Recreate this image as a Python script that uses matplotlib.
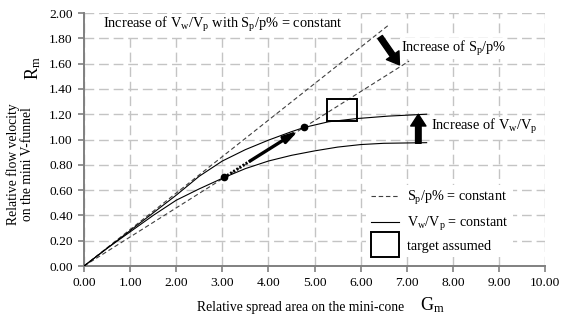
import numpy as np
import matplotlib
matplotlib.use('Agg')
import matplotlib.pyplot as plt
from matplotlib.patches import Rectangle
from matplotlib.lines import Line2D
from matplotlib.legend_handler import HandlerPatch

plt.rcParams['font.family'] = ['Liberation Serif', 'DejaVu Serif']
plt.rcParams['mathtext.fontset'] = 'custom'
plt.rcParams['mathtext.rm'] = 'Liberation Serif'
plt.rcParams['mathtext.it'] = 'Liberation Serif:italic'

# Sp/p% = constant (два пунктирных луча)
sp_hi_x = [0.0, 6.59]
sp_hi_y = [0.0, 1.90]
sp_lo_x = [0.0, 7.05]
sp_lo_y = [0.0, 1.62]

# Vw/Vp = constant (две сплошные кривые)
vw_hi_x = [0.0, 0.5, 1.0, 1.5, 2.0, 2.5, 2.75, 3.0, 3.5, 4.0, 4.5, 4.77, 5.3, 5.9, 6.6, 7.43]
vw_hi_y = [0.0, 0.14, 0.28, 0.42, 0.56, 0.71, 0.77, 0.83, 0.92, 0.995, 1.062, 1.095, 1.14, 1.165, 1.185, 1.20]
vw_lo_x = [0.0, 0.5, 1.0, 1.5, 2.0, 2.5, 3.04, 3.5, 4.0, 4.5, 5.0, 5.5, 6.0, 6.5, 7.43]
vw_lo_y = [0.0, 0.14, 0.27, 0.40, 0.52, 0.61, 0.70, 0.77, 0.83, 0.875, 0.91, 0.94, 0.96, 0.97, 0.975]

# точки и стрелка между ними
dot_x = [3.04, 4.77]
dot_y = [0.70, 1.10]
path_x = [3.04, 3.6, 4.65]
path_y = [0.70, 0.83, 1.07]

# target assumed
target = (5.28, 1.15, 0.63, 0.17)

# большие стрелки
arr_sp = ((6.42, 1.81), (6.84, 1.59))
arr_vw = ((7.25, 0.97), (7.25, 1.20))

fig = plt.figure(figsize=(5.62, 3.21), dpi=100)
ax = fig.add_axes([0.1495, 0.1713, 0.8205, 0.7882])

ax.set_xlim(0, 10)
ax.set_ylim(0, 2)
ax.set_xticks(np.arange(0, 10.01, 1))
ax.set_yticks(np.arange(0, 2.01, 0.2))
ax.set_xticklabels(['%.2f' % v for v in np.arange(0, 10.01, 1)])
ax.set_yticklabels(['%.2f' % v for v in np.arange(0, 2.01, 0.2)])
ax.tick_params(labelsize=9.7, length=4, width=1.2, color='#808080', pad=4)
ax.grid(True, color='#c4c4c4', linestyle=(0, (7, 3.5)), linewidth=1.0)
ax.set_axisbelow(True)
for s in ['top', 'right']:
    ax.spines[s].set_visible(False)
for s in ['left', 'bottom']:
    ax.spines[s].set_color('#808080')
    ax.spines[s].set_linewidth(1.4)

dash = (0, (4, 2.5))
ax.plot(sp_hi_x, sp_hi_y, color='#404040', lw=0.8, linestyle=dash, zorder=3)
ax.plot(sp_lo_x, sp_lo_y, color='#404040', lw=0.8, linestyle=dash, zorder=3)
ax.plot(vw_hi_x, vw_hi_y, color='black', lw=0.8, zorder=3)
ax.plot(vw_lo_x, vw_lo_y, color='black', lw=0.8, zorder=3)

ax.add_patch(Rectangle(target[:2], target[2], target[3], fill=False, ec='black', lw=1.4, zorder=4))

ax.plot(path_x[:2], path_y[:2], color='black', lw=2.2, linestyle=(0, (0.6, 0.6)), zorder=4)
ax.annotate('', xy=(path_x[2], path_y[2]), xytext=(path_x[1], path_y[1]),
            arrowprops=dict(arrowstyle='-|>,head_length=0.8,head_width=0.22', lw=2.4, color='black',
                            shrinkA=0, shrinkB=0), zorder=4)
ax.plot(dot_x, dot_y, 'o', color='black', ms=4.5, zorder=5)

big = 'simple,head_length=0.85,head_width=1.1,tail_width=0.4'
for (s, e) in [arr_sp, arr_vw]:
    ax.annotate('', xy=e, xytext=s,
                arrowprops=dict(arrowstyle=big, color='black', shrinkA=0, shrinkB=0, mutation_scale=10),
                zorder=5)

fs = 10.4
wb = dict(facecolor='white', edgecolor='none', pad=0.5)
ax.text(0.41, 1.91, r'Increase of V$_\mathrm{w}$/V$_\mathrm{p}$ with S$_\mathrm{p}$/p% = constant',
        fontsize=fs, va='center', ha='left', bbox=wb, zorder=2)
ax.text(6.87, 1.72, r'Increase of S$_\mathrm{p}$/p%', fontsize=fs, va='center', ha='left', bbox=wb, zorder=2)
ax.text(7.52, 1.10, r'Increase of V$_\mathrm{w}$/V$_\mathrm{p}$', fontsize=fs, va='center', ha='left', bbox=wb, zorder=2)

ax.text(0.469, -0.162, 'Relative spread area on the mini-cone', transform=ax.transAxes,
        fontsize=9.8, ha='center', va='center')
ax.text(0.755, -0.155, r'G$_\mathrm{m}$', transform=ax.transAxes, fontsize=13, ha='center', va='center')
ax.text(-0.139, 0.403, 'Relative flow velocity\non the mini V-funnel', transform=ax.transAxes,
        fontsize=9.8, ha='center', va='center', rotation=90, linespacing=1.1)
ax.text(-0.111, 0.783, r'R$_\mathrm{m}$', transform=ax.transAxes, fontsize=13, ha='center', va='center', rotation=90)


def big_box(legend, orig_handle, xdescent, ydescent, width, height, fontsize):
    return Rectangle((-xdescent, -ydescent - height * 0.75), width, height * 2.5)


h1 = Line2D([], [], color='#404040', lw=0.8, linestyle=dash)
h2 = Line2D([], [], color='black', lw=0.8)
h3 = Rectangle((0, 0), 1, 1, fill=False, ec='black', lw=1.4)
leg = ax.legend([h1, h2, h3],
                [r'S$_\mathrm{p}$/p% = constant', r'V$_\mathrm{w}$/V$_\mathrm{p}$ = constant', 'target assumed'],
                loc='lower left', bbox_to_anchor=(0.597, 0.008), fontsize=10.2, frameon=True,
                handlelength=2.0, handletextpad=0.6, labelspacing=0.5, borderpad=0.3,
                handler_map={h3: HandlerPatch(patch_func=big_box)})
leg.get_frame().set_facecolor('white')
leg.get_frame().set_edgecolor('none')
leg.get_frame().set_alpha(1)

fig.savefig('out.png', dpi=100)
